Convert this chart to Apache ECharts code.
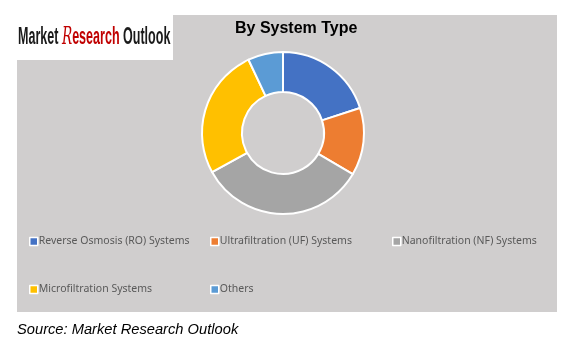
<!DOCTYPE html>
<html><head><meta charset="utf-8">
<script src="https://cdn.jsdelivr.net/npm/echarts@6/dist/echarts.min.js"></script>
<style>html,body{margin:0;padding:0;background:#fff}#c{width:581px;height:350px}</style>
</head><body><div id="c"></div>
<script>
const categories = ['Reverse Osmosis (RO) Systems','Ultrafiltration (UF) Systems','Nanofiltration (NF) Systems','Microfiltration Systems','Others'];
const values = [20, 13.5, 33.5, 26, 7];
const colors = ['#4472C4','#ED7D31','#A5A5A5','#FFC000','#5B9BD5'];
const title = 'By System Type';
const source = 'Source: Market Research Outlook';

const chart = echarts.init(document.getElementById('c'), null, {renderer:'canvas'});
const legendPos = [[29,236],[210,236],[392,236],[29,284],[210,284]];
const legendBase = {
  orient:'horizontal', icon:'rect', itemWidth:8, itemHeight:8, itemGap:4, padding:0,
  textStyle:{fontFamily:'Noto Sans', fontSize:10.5, color:'#595959', padding:[0,0,0,-4]},
  itemStyle:{borderColor:'#fff', borderWidth:1.5}
};
chart.setOption({
  animation:false,
  color: colors,
  title:{text:title, left:230, top:16,
    textStyle:{fontFamily:'Liberation Sans', fontWeight:'bold', fontSize:16, color:'#000'}},
  legend: categories.map((c,i)=>Object.assign({}, legendBase, {left:legendPos[i][0], top:legendPos[i][1], data:[c]})),
  graphic:[
    {type:'rect', z:-10, shape:{x:17,y:15,width:540,height:297}, style:{fill:'#D0CECE'}},
    {type:'rect', z:-9, shape:{x:0,y:15,width:173,height:45}, style:{fill:'#fff'}},
    {type:'text', left:17, top:322, style:{text:source, font:'italic 14.7px "Liberation Sans"', fill:'#000'}},
    {type:'text', x:18, y:25, scaleX:0.545, style:{
      text:'{a|Market }{r|R}{b|esearch}{a| Outlook}',
      rich:{a:{fontFamily:'Liberation Sans', fontWeight:'bold', fontSize:23, fill:'#1a1a1a', color:'#1a1a1a'},
            r:{fontFamily:'DejaVu Serif', fontStyle:'italic', fontSize:25, fill:'#C00000', color:'#C00000'},
            b:{fontFamily:'Liberation Sans', fontWeight:'bold', fontSize:23, fill:'#C00000', color:'#C00000'}}
    }}
  ],
  series:[{
    type:'pie', center:[283,133], radius:[41,81], startAngle:90, clockwise:true,
    label:{show:false}, labelLine:{show:false},
    itemStyle:{borderColor:'#fff', borderWidth:2},
    data: categories.map((c,i)=>({name:c, value:values[i]}))
  }]
});
</script></body></html>
